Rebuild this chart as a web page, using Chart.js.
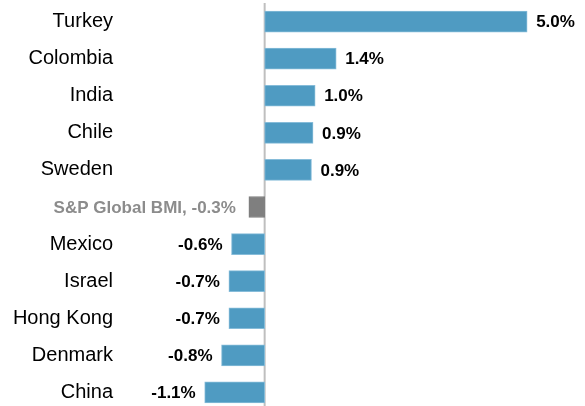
<!DOCTYPE html>
<html>
<head>
<meta charset="utf-8">
<script src="https://cdn.jsdelivr.net/npm/chart.js@4"></script>
<style>
  html, body { margin: 0; padding: 0; background: #fff; overflow: hidden; }
  #wrap { width: 585px; height: 412px; }
</style>
</head>
<body>
<div id="wrap"><canvas id="c" width="585" height="412"></canvas></div>
<script>
const categories = ["Turkey", "Colombia", "India", "Chile", "Sweden", "S&P Global BMI", "Mexico", "Israel", "Hong Kong", "Denmark", "China"];
const values = [4.99, 1.36, 0.96, 0.92, 0.89, -0.30, -0.63, -0.68, -0.68, -0.82, -1.14];
const valueLabels = ["5.0%", "1.4%", "1.0%", "0.9%", "0.9%", "-0.3%", "-0.6%", "-0.7%", "-0.7%", "-0.8%", "-1.1%"];
const benchmarkName = "S&P Global BMI";

const FONT = "'Liberation Sans', Arial, Helvetica, sans-serif";
const BLUE = "#4f9bc2";
const GRAY = "#7f7f7f";

const barColors = categories.map(c => c === benchmarkName ? GRAY : BLUE);
const borderColors = categories.map(c => c === benchmarkName ? GRAY : "#86bcd9");

const zeroLine = {
  id: "zeroLine",
  beforeDatasetsDraw(chart) {
    const { ctx, chartArea, scales } = chart;
    const x = scales.x.getPixelForValue(0);
    ctx.save();
    ctx.strokeStyle = "#bfbfbf";
    ctx.lineWidth = 2;
    ctx.beginPath();
    ctx.moveTo(x, chartArea.top);
    ctx.lineTo(x, chartArea.bottom + 5);
    ctx.stroke();
    ctx.restore();
  }
};

const valueLabelPlugin = {
  id: "valueLabels",
  afterDatasetsDraw(chart) {
    const { ctx } = chart;
    const meta = chart.getDatasetMeta(0);
    ctx.save();
    ctx.textBaseline = "middle";
    meta.data.forEach((el, i) => {
      const v = values[i];
      const isBench = categories[i] === benchmarkName;
      const base = chart.scales.x.getPixelForValue(0);
      const start = Math.min(el.x, base);
      ctx.font = "bold 17px " + FONT;
      if (isBench) {
        ctx.fillStyle = "#8c8c8c";
        ctx.textAlign = "right";
        ctx.fillText(categories[i] + ", " + valueLabels[i], start - 13, el.y + 1);
        return;
      }
      ctx.fillStyle = "#000";
      if (v >= 0) {
        ctx.textAlign = "left";
        ctx.fillText(valueLabels[i], el.x + 9, el.y + 1);
      } else {
        ctx.textAlign = "right";
        ctx.fillText(valueLabels[i], el.x - 9, el.y + 1);
      }
    });
    ctx.restore();
  }
};

new Chart(document.getElementById("c"), {
  type: "bar",
  data: {
    labels: categories,
    datasets: [{
      data: values,
      backgroundColor: barColors,
      borderColor: borderColors,
      borderWidth: 1,
      borderSkipped: false,
      barThickness: 21
    }]
  },
  options: {
    indexAxis: "y",
    responsive: false,
    animation: false,
    devicePixelRatio: 1,
    layout: { padding: { top: 3, bottom: 1, left: 0, right: 0 } },
    plugins: { legend: { display: false }, tooltip: { enabled: false } },
    scales: {
      x: {
        display: false,
        min: -2.75,
        max: 6.09
      },
      y: {
        offset: true,
        grid: { display: false, drawTicks: false },
        border: { display: false },
        ticks: {
          padding: 7,
          color: "#000",
          font: { family: FONT, size: 20 },
          callback: function (val, idx) {
            const c = categories[idx];
            return c === benchmarkName ? "" : c;
          }
        },
        afterFit(scale) {
          scale.width = 120;
          scale.paddingTop = 0;
          scale.paddingBottom = 0;
        }
      }
    }
  },
  plugins: [zeroLine, valueLabelPlugin]
});
</script>
</body>
</html>
